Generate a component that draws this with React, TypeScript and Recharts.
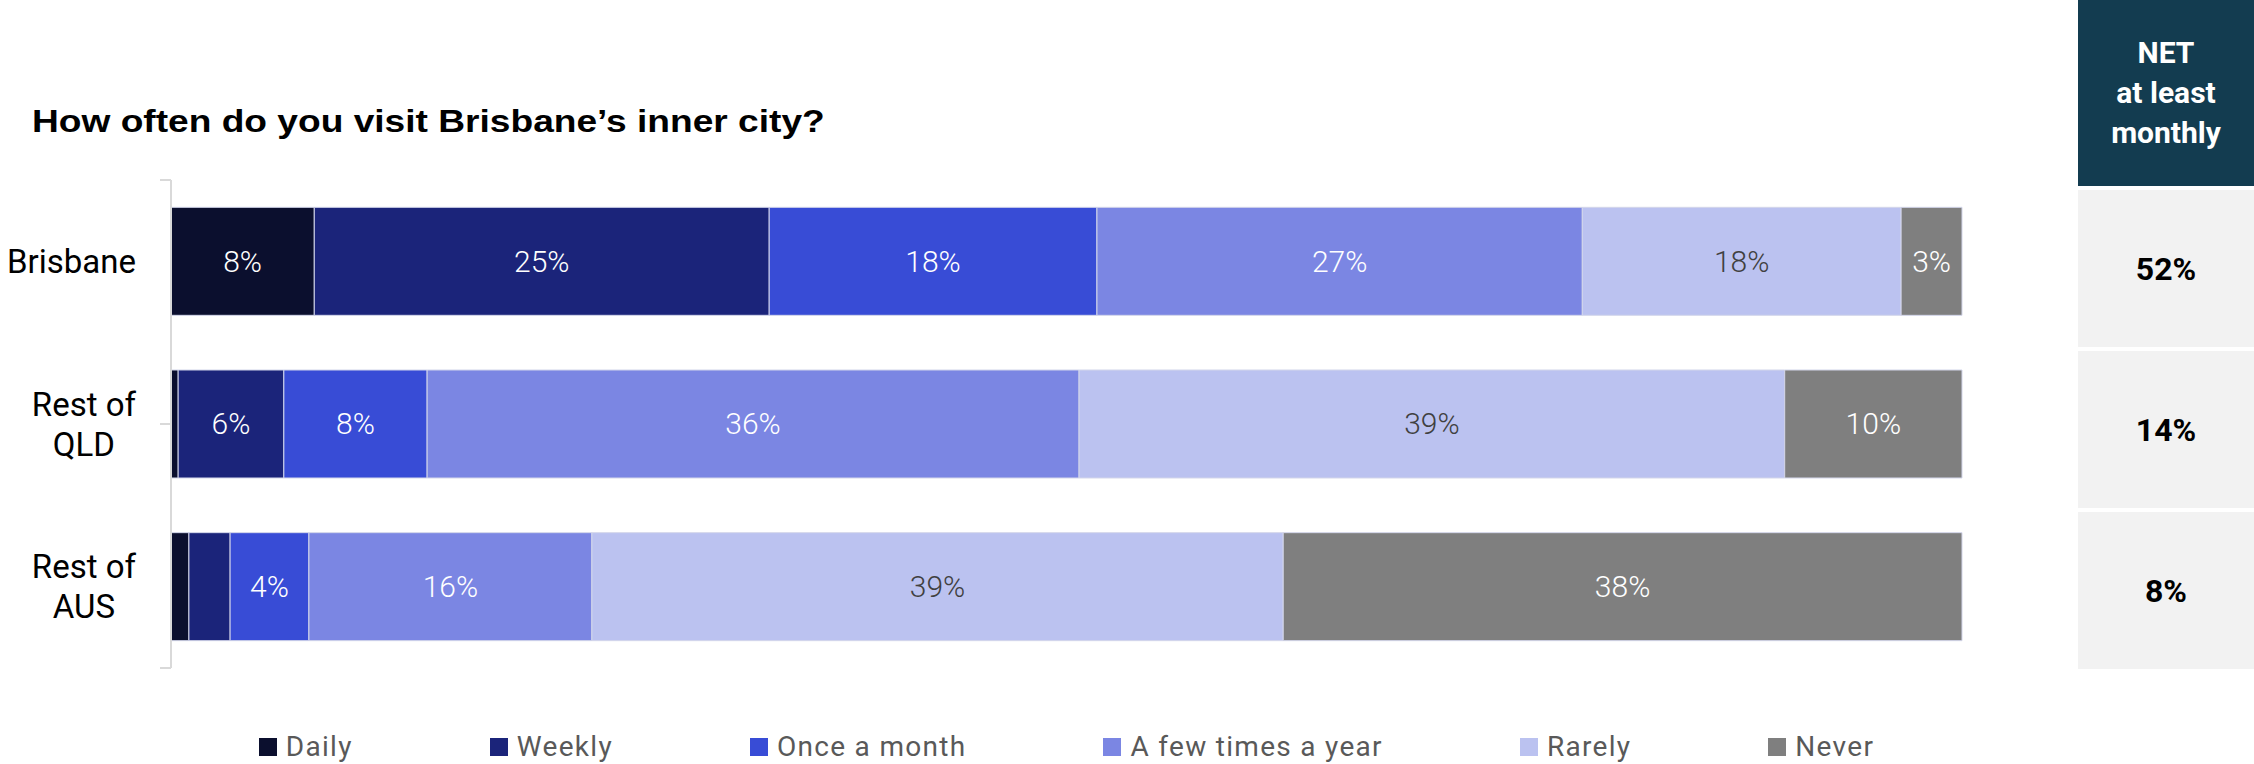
import { BarChart, Bar, XAxis, YAxis, LabelList } from "recharts";

const categories = ["Brisbane", "Rest of\nQLD", "Rest of\nAUS"];
const daily = [8.0, 0.4, 1.0];
const weekly = [25.4, 5.9, 2.3];
const onceAMonth = [18.3, 8.0, 4.4];
const fewTimesAYear = [27.1, 36.4, 15.8];
const rarely = [17.8, 39.4, 38.6];
const never = [3.4, 9.9, 37.9];
const netMonthly = [52, 14, 8];
const edgeTicks = [0, 1, 2, 3];

const series = [
  { key: "daily", name: "Daily", values: daily, color: "#0b0f2e", text: "#ffffff" },
  { key: "weekly", name: "Weekly", values: weekly, color: "#1b247a", text: "#ffffff" },
  { key: "once", name: "Once a month", values: onceAMonth, color: "#384cd6", text: "#ffffff" },
  { key: "few", name: "A few times a year", values: fewTimesAYear, color: "#7b86e3", text: "#ffffff" },
  { key: "rarely", name: "Rarely", values: rarely, color: "#bbc2f0", text: "#404040" },
  { key: "never", name: "Never", values: never, color: "#7f7f7f", text: "#ffffff" },
];

const data = categories.map((name, i) => {
  const row: Record<string, string | number> = { name };
  series.forEach((s) => (row[s.key] = s.values[i]));
  return row;
});

const W = 2254;
const H = 764;
const LABEL_SIZE = 33;

let ctx: CanvasRenderingContext2D | null = null;
function textWidth(t: string) {
  if (!ctx) ctx = document.createElement("canvas").getContext("2d");
  if (!ctx) return t.length * 16;
  ctx.font = `${LABEL_SIZE}px Roboto`;
  return ctx.measureText(t).width;
}

function CategoryTick({ x, y, payload }: any) {
  const lines = String(payload.value).split("\n");
  const block = Math.max(...lines.map(textWidth));
  const cx = x - 34 - block / 2;
  return (
    <g>
      {lines.map((l, i) => (
        <text
          key={i}
          x={cx}
          y={y + (i - (lines.length - 1) / 2) * 40}
          textAnchor="middle"
          dominantBaseline="central"
          fontFamily="Roboto"
          fontSize={LABEL_SIZE}
          fill="#000"
        >
          {l}
        </text>
      ))}
    </g>
  );
}

const EmptyTick = () => <g />;

function segLabel(color: string) {
  return (p: any) => {
    const { x, y, width, height, value } = p;
    if (value < 3) return null;
    return (
      <text
        x={x + width / 2}
        y={y + height / 2}
        textAnchor="middle"
        dominantBaseline="central"
        fontFamily="Roboto"
        fontWeight={300}
        fontSize={30}
        fill={color}
      >
        {Math.round(value)}%
      </text>
    );
  };
}

export default function App() {
  return (
    <div style={{ position: "relative", width: W, height: H, overflow: "hidden", background: "#fff", fontFamily: "Roboto" }}>
      <style>{`body{margin:0}`}</style>
      <div
        style={{
          position: "absolute",
          left: 32,
          top: 105,
          fontFamily: "'Liberation Sans', Arial, sans-serif",
          fontWeight: 700,
          fontSize: 32,
          lineHeight: "32px",
          color: "#000",
          whiteSpace: "nowrap",
          transform: "scaleX(1.16)",
          transformOrigin: "left center",
        }}
      >
        How often do you visit Brisbane’s inner city?
      </div>

      <BarChart
        width={W}
        height={H}
        data={data}
        layout="vertical"
        margin={{ top: 180, right: 292, bottom: 96, left: 0 }}
        barCategoryGap="16.8%"
      >
        <XAxis type="number" domain={[0, 100]} hide />
        <YAxis
          yAxisId="b"
          type="category"
          dataKey="name"
          width={170}
          axisLine={false}
          tickLine={false}
          tickSize={0}
          tickMargin={0}
          tick={<CategoryTick />}
        />
        {/* thin number axis only to draw the bracket ticks between the rows */}
        <YAxis
          yAxisId="a"
          type="number"
          domain={[0, 3]}
          ticks={edgeTicks}
          width={1}
          tick={EmptyTick}
          tickSize={11}
          axisLine={{ stroke: "#d9d9d9", strokeWidth: 2 }}
          tickLine={{ stroke: "#d9d9d9", strokeWidth: 2 }}
        />
        {series.map((s) => (
          <Bar
            key={s.key}
            yAxisId="b"
            dataKey={s.key}
            name={s.name}
            stackId="a"
            fill={s.color}
            stroke="#d3d6ea"
            strokeWidth={1}
            isAnimationActive={false}
          >
            <LabelList dataKey={s.key} content={segLabel(s.text)} />
          </Bar>
        ))}
      </BarChart>

      <div
        style={{
          position: "absolute",
          left: 171,
          width: 1791,
          top: 733,
          display: "flex",
          justifyContent: "center",
          gap: 137,
          fontSize: 28,
          letterSpacing: 1.3,
          lineHeight: "28px",
          color: "#595959",
          whiteSpace: "nowrap",
        }}
      >
        {series.map((s) => (
          <div key={s.key} style={{ display: "flex", alignItems: "center", gap: 9 }}>
            <span style={{ width: 18, height: 18, background: s.color, display: "inline-block" }} />
            <span>{s.name}</span>
          </div>
        ))}
      </div>

      <div
        style={{
          position: "absolute",
          left: 2078,
          top: 0,
          width: 176,
          height: 186,
          background: "#133c50",
          color: "#fff",
          fontWeight: 700,
          fontSize: 30,
          lineHeight: "40px",
          display: "flex",
          flexDirection: "column",
          alignItems: "center",
          justifyContent: "center",
          textAlign: "center",
        }}
      >
        <div>NET</div>
        <div>at least</div>
        <div>monthly</div>
      </div>

      <div style={{ position: "absolute", left: 2078, top: 190, width: 176, display: "flex", flexDirection: "column", gap: 4 }}>
        {netMonthly.map((v, i) => (
          <div
            key={i}
            style={{
              height: 157,
              background: "#f2f2f2",
              display: "flex",
              alignItems: "center",
              justifyContent: "center",
              fontWeight: 700,
              fontSize: 32,
              color: "#000",
            }}
          >
            {v}%
          </div>
        ))}
      </div>
    </div>
  );
}
